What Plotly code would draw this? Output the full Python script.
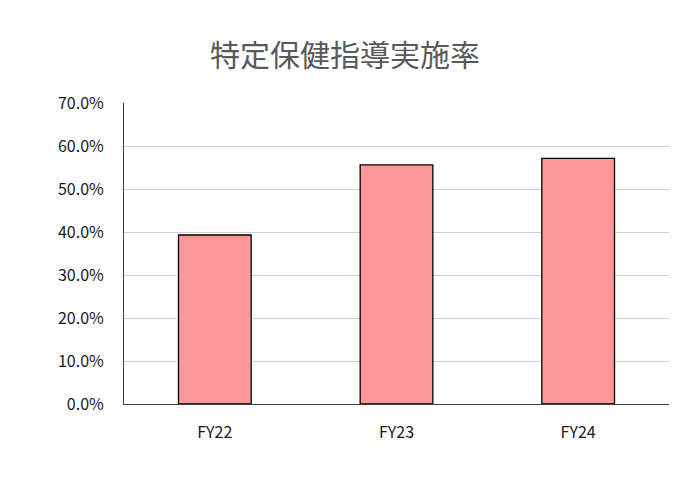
import plotly.graph_objects as go

# data
years = ["FY22", "FY23", "FY24"]
rates = [0.393, 0.556, 0.571]
y_ticks = [0.0, 0.1, 0.2, 0.3, 0.4, 0.5, 0.6, 0.7]

fig = go.Figure()

fig.add_trace(go.Bar(
    x=years, y=rates,
    width=0.4,
    marker=dict(color="#FF9999", line=dict(color="black", width=1.3)),
    showlegend=False,
))

fig.update_layout(
    width=690, height=480,
    paper_bgcolor="white", plot_bgcolor="white",
    margin=dict(l=124, r=21, t=103, b=76),
    title=dict(
        text="特定保健指導実施率",
        x=0.5, xanchor="center", y=0.885, yanchor="middle",
        font=dict(family="Noto Sans CJK JP", size=30, color="#595959"),
    ),
    font=dict(family="Noto Sans CJK JP", size=16, color="#1A1A1A"),
)

fig.update_yaxes(
    range=[0, 0.7],
    tickvals=y_ticks,
    tickformat=".1%",
    showgrid=True, gridcolor="#D0D0D0", gridwidth=1,
    showline=True, linecolor="#404040", linewidth=1,
    ticks="", ticklabelstandoff=16,
    zeroline=False,
)
fig.update_xaxes(
    showline=True, linecolor="#404040", linewidth=1,
    ticks="", ticklabelstandoff=14,
)

# drop the default page margin so the figure sits at the window corner
fig.write_html("out.html", config={"displayModeBar": False},
               post_script="document.body.style.margin='0';")
